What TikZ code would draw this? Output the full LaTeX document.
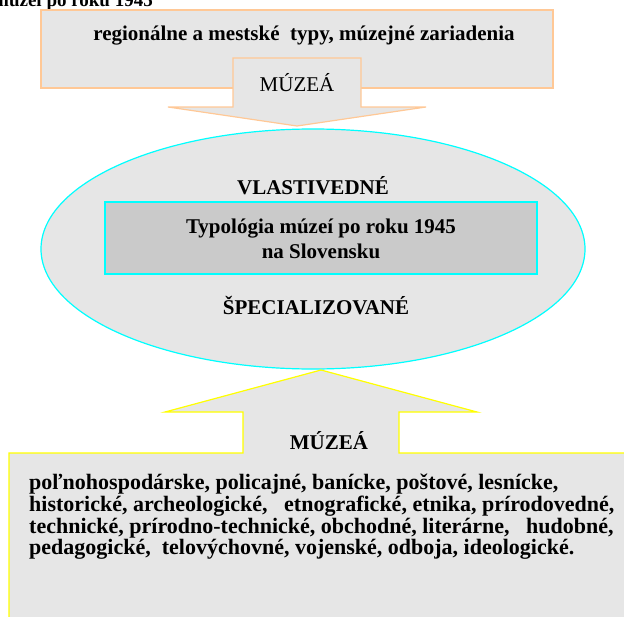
\documentclass[tikz,border=0pt]{standalone}
\usepackage{fontspec}
\setmainfont{Liberation Serif}
\definecolor{peach}{HTML}{FFC896}
\definecolor{cyanline}{HTML}{00FFFF}
\definecolor{yell}{HTML}{FFFF00}
\definecolor{paper}{HTML}{E6E6E6}
\definecolor{paperdark}{HTML}{CACACA}
\tikzset{
  txt/.style={inner sep=0pt, font=\bfseries\fontsize{21}{25}\selectfont},
  txtreg/.style={inner sep=0pt, font=\fontsize{21}{25}\selectfont},
  orangeshape/.style={draw=peach, line width=1.2pt, fill=paper},
  cyanshape/.style={draw=cyanline, line width=1.2pt, fill=paper},
  yellowshape/.style={draw=yell, line width=1.2pt, fill=paper},
}
\begin{document}
\begin{tikzpicture}[x=1pt,y=-1pt]
\useasboundingbox (0,0) rectangle (624,616);
\clip (0,0) rectangle (624,616);
% title (cut off at the top in the reference)
\node[txt, anchor=base east, font=\bfseries\fontsize{19}{22}\selectfont] (title) at (153,6) {múzeí po roku 1945};
% top box
\draw[orangeshape] (41,10) rectangle (553,88);
\node[txt] (regio) at (304,36) {regionálne a mestské\ \ typy, múzejné zariadenia};
% top arrow
\draw[orangeshape] (233,58) -- (361,58) -- (361,107) -- (426,107) -- (297,126) -- (168,107) -- (233,107) -- cycle;
\node[txtreg] (muzea1) at (297,83) {MÚZEÁ};
% ellipse
\draw[cyanshape] (313,249) ellipse [x radius=272, y radius=120];
\node[txt] (vlast) at (313,186) {VLASTIVEDNÉ};
\draw[draw=cyanline, line width=1.2pt, fill=paperdark] (105,202) rectangle (537,274);
\node[txt, align=center, font=\bfseries\fontsize{21}{25}\selectfont] (typo) at (321,239) {Typológia múzeí po roku 1945\\na Slovensku};
\node[txt] (spec) at (316,306) {ŠPECIALIZOVANÉ};
% bottom arrow + box
\draw[yellowshape] (9,700) -- (9,453) -- (243,453) -- (243,412) -- (165,412) -- (321,370) -- (477,412) -- (399,412) -- (399,453) -- (640,453) -- (640,700) -- cycle;
\node[txt] (muzea2) at (329,441) {MÚZEÁ};
\node[txt, anchor=north west, align=left, font=\bfseries\fontsize{22}{21.7}\selectfont] (list) at (29,474) {poľnohospodárske, policajné, banícke, poštové, lesnícke,\\historické, archeologické,\ \ \ etnografické, etnika, prírodovedné,\\technické,\ prírodno-technické,\ obchodné,\ literárne,\ \ \ hudobné,\\pedagogické,\ \ telovýchovné, vojenské, odboja, ideologické.};
\end{tikzpicture}
\end{document}
